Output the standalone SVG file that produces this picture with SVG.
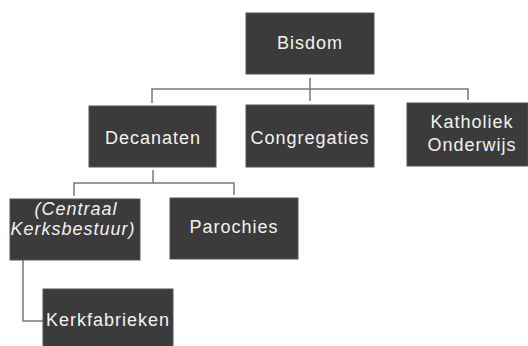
<svg xmlns="http://www.w3.org/2000/svg" width="528" height="346" viewBox="0 0 528 346">
<style>
.box{fill:#3b3b3b;stroke:#555;stroke-width:1}
.t{font-family:"Liberation Sans",Arial,sans-serif;font-size:18px;fill:#f2f2f2;text-anchor:middle;letter-spacing:1px}
.i{font-style:italic}
.c{fill:none;stroke:#7a7a7a;stroke-width:1.5}
</style>
<rect width="528" height="346" fill="#fff"/>
<g id="connectors">
<path class="c" d="M310 78V101M152 103V89H468V100"/>
<path class="c" d="M153 170V183M74 196V183H234V195"/>
<path class="c" d="M23 260V321H43"/>
</g>
<g id="bisdom"><rect class="box" x="246" y="13" width="128" height="61"/><text class="t" x="310" y="49">Bisdom</text></g>
<g id="decanaten"><rect class="box" x="89" y="106" width="127" height="61"/><text class="t" x="153" y="144">Decanaten</text></g>
<g id="congregaties"><rect class="box" x="246" y="105" width="128" height="62"/><text class="t" x="310" y="144">Congregaties</text></g>
<g id="katholiek"><rect class="box" x="407" y="103" width="121" height="63"/><text class="t" x="472" y="128">Katholiek</text><text class="t" x="472" y="151">Onderwijs</text></g>
<g id="centraal"><rect class="box" x="10" y="199" width="130" height="61"/><text class="t i" x="76" y="215">(Centraal</text><text class="t i" x="73" y="235">Kerksbestuur)</text></g>
<g id="parochies"><rect class="box" x="170" y="198" width="128" height="61"/><text class="t" x="234" y="233">Parochies</text></g>
<g id="kerkfabrieken"><rect class="box" x="43" y="289" width="130" height="60"/><text class="t" x="108" y="326">Kerkfabrieken</text></g>
</svg>
